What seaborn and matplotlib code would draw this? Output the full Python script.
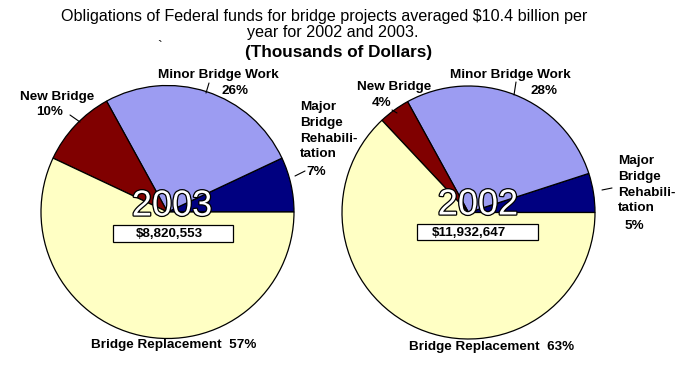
import matplotlib
matplotlib.use("Agg")
import matplotlib.pyplot as plt
import matplotlib.patheffects as pe
from matplotlib.patches import Rectangle
import seaborn as sns

# data
categories = ["Major Bridge Rehabilitation", "Minor Bridge Work", "New Bridge", "Bridge Replacement"]
shares_2003 = [7, 26, 10, 57]
shares_2002 = [5, 28, 4, 63]
totals = {"2003": "$8,820,553", "2002": "$11,932,647"}
colors = ["#000080", "#9c9cf2", "#800000", "#ffffc4"]

sns.set_style("white")
plt.rcParams["font.family"] = ["Liberation Sans", "DejaVu Sans"]
plt.rcParams["text.color"] = "black"

W, H = 688, 374
fig = plt.figure(figsize=(W / 100, H / 100), dpi=100)
ax = fig.add_axes([0, 0, 1, 1])
ax.set_xlim(0, W)
ax.set_ylim(H, 0)
ax.axis("off")

lab = dict(fontsize=9.7, fontweight="bold", zorder=6)


def leader(x0, y0, x1, y1):
    ax.plot([x0, x1], [y0, y1], color="black", lw=0.8, zorder=6)


def draw_pie(shares, year, cx, cy, r, pos):
    # y axis is inverted, so counterclock=False draws counter-clockwise on screen
    ax.pie(shares, colors=colors, center=(cx, cy), radius=r, startangle=0,
           counterclock=False, frame=True,
           wedgeprops=dict(edgecolor="black", linewidth=0.9))
    ax.text(pos["year"][0], pos["year"][1], year, fontsize=26, color="white", ha="center", va="center",
            path_effects=[pe.withStroke(linewidth=1.8, foreground="black")], zorder=5)
    bx, by, bw, bh = pos["box"]
    ax.add_patch(Rectangle((bx, by), bw, bh, facecolor="white", edgecolor="black", lw=0.9, zorder=5))
    ax.text(pos["boxtext"], by + bh / 2 + 0.5, totals[year], fontsize=9.6, fontweight="bold",
            ha="center", va="center", zorder=6)

    ax.text(pos["minor"][0], pos["minor"][1], "Minor Bridge Work", ha="center", va="center", **lab)
    ax.text(pos["minor_p"][0], pos["minor_p"][1], f"{shares[1]}%", ha="center", va="center", **lab)
    ax.text(pos["new"][0], pos["new"][1], "New Bridge", ha="center", va="center", **lab)
    ax.text(pos["new_p"][0], pos["new_p"][1], f"{shares[2]}%", ha="center", va="center", **lab)
    ax.text(pos["major"][0], pos["major"][1], "Major\nBridge\nRehabili-\ntation",
            ha="left", va="top", linespacing=1.42, **lab)
    ax.text(pos["major_p"][0], pos["major_p"][1], f"{shares[0]}%", ha="center", va="center", **lab)
    ax.text(pos["repl"][0], pos["repl"][1], f"Bridge Replacement  {shares[3]}%",
            ha="center", va="center", **lab)
    for seg in pos["leaders"]:
        leader(*seg)


draw_pie(shares_2003, "2003", 167.5, 212, 126.5, {
    "year": (172, 206),
    "box": (113, 225, 120, 17), "boxtext": 169,
    "minor": (218, 75), "minor_p": (235, 91),
    "new": (57, 97), "new_p": (50, 112),
    "major": (300, 101), "major_p": (316, 172),
    "repl": (174, 345),
    "leaders": [(209, 83, 206, 93), (70, 115, 80, 122), (295, 176, 305, 171)],
})

draw_pie(shares_2002, "2002", 468.5, 212.5, 126.5, {
    "year": (478, 205),
    "box": (417, 224, 121, 16), "boxtext": 469,
    "minor": (510, 75), "minor_p": (544, 91),
    "new": (394, 87), "new_p": (382, 103),
    "major": (618, 155), "major_p": (634, 226),
    "repl": (492, 347),
    "leaders": [(516, 82, 514, 95), (392, 110, 397, 113), (602, 190, 612, 188)],
})

ax.set_xlim(0, W)
ax.set_ylim(H, 0)
ax.set_aspect("auto")

ax.text(324, 16, "Obligations of Federal funds for bridge projects averaged $10.4 billion per",
        fontsize=11.6, ha="center", va="center")
ax.text(333, 32, "year for 2002 and 2003.", fontsize=11.6, ha="center", va="center")
ax.text(339, 52, "(Thousands of Dollars)", fontsize=12.3, fontweight="bold", ha="center", va="center")
ax.text(160, 47, "`", fontsize=10, ha="center", va="center")

fig.savefig("out.png", dpi=100, facecolor="white")
